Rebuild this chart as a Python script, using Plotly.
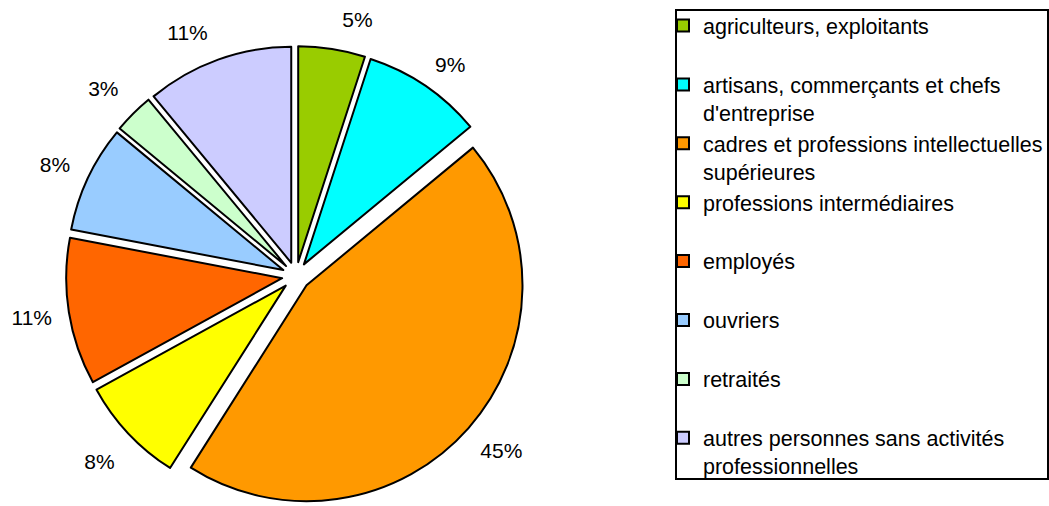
import plotly.graph_objects as go

categories = [
    "agriculteurs, exploitants",
    "artisans, commerçants et chefs<br>d'entreprise",
    "cadres et professions intellectuelles<br>supérieures",
    "professions intermédiaires",
    "employés",
    "ouvriers",
    "retraités",
    "autres personnes sans activités<br>professionnelles",
]
values = [5, 9, 45, 8, 11, 8, 3, 11]
colors = ["#99CC00", "#00FFFF", "#FF9900", "#FFFF00", "#FF6600", "#99CCFF", "#CCFFCC", "#CCCCFF"]
PULL = 0.065

# pad one-line legend labels so every legend entry has the same height
legend_labels = [c if "<br>" in c else c + "<br> " for c in categories]

# spacing of the outside percentage labels from the pie (style only):
# (blank line on the pie side: "below"/"above", its size in px, number of side spaces, side-space size in px)
LABEL_FONT = 21
label_gap = [
    ("below", 14.9, 0, 0),
    ("below", 13.3, 0, 0),
    ("above", 19.4, 0, 0),
    ("above", 22.7, 0, 0),
    ("above", 13.2, 2, 15.3),
    ("below", 15.2, 2, 13.3),
    ("below", 19.7, 1, 9.7),
    ("below", 14.9, 0, 0),
]

NB = "\u00a0"
total = sum(values)
pct_text, base_sizes = [], []
for v, (side, size, n_sp, sp_size) in zip(values, label_gap):
    core = f"<span style='font-size:{LABEL_FONT}px'>{round(100 * v / total)}%</span>"
    if n_sp:
        core += f"<span style='font-size:{sp_size}px'>{NB * n_sp}</span>"
    pct_text.append(core + "<br>" + NB if side == "below" else NB + "<br>" + core)
    base_sizes.append(size)

fig = go.Figure()

fig.add_trace(go.Pie(
    labels=legend_labels,
    values=values,
    marker=dict(colors=colors, line=dict(color="black", width=2)),
    pull=PULL,
    sort=False,
    direction="clockwise",
    rotation=0,
    text=pct_text,
    textinfo="text",
    textposition="outside",
    textfont=dict(family="Liberation Sans, Arial", size=base_sizes, color="black"),
    domain=dict(x=[0, 592/1049], y=[0, 460/506]),
))

fig.add_shape(type="rect", xref="paper", yref="paper",
              x0=676/1049, x1=1048/1049, y0=1-479/506, y1=1-10/506,
              line=dict(color="black", width=2), fillcolor="rgba(0,0,0,0)", layer="below")

fig.update_layout(
    width=1049, height=506,
    margin=dict(l=0, r=0, t=0, b=0, autoexpand=False),
    paper_bgcolor="white", plot_bgcolor="white",
    font=dict(family="Liberation Sans, Arial", size=21, color="black"),
    legend=dict(
        x=663/1049, xanchor="left", y=1-5/506, yanchor="top",
        bgcolor="rgba(0,0,0,0)", borderwidth=0,
        valign="top",
        font=dict(family="Liberation Sans, Arial", size=21.5, color="black"),
    ),
)

fig.write_html("out.html", config={"displayModeBar": False},
               post_script="document.body.style.margin='0px';")
